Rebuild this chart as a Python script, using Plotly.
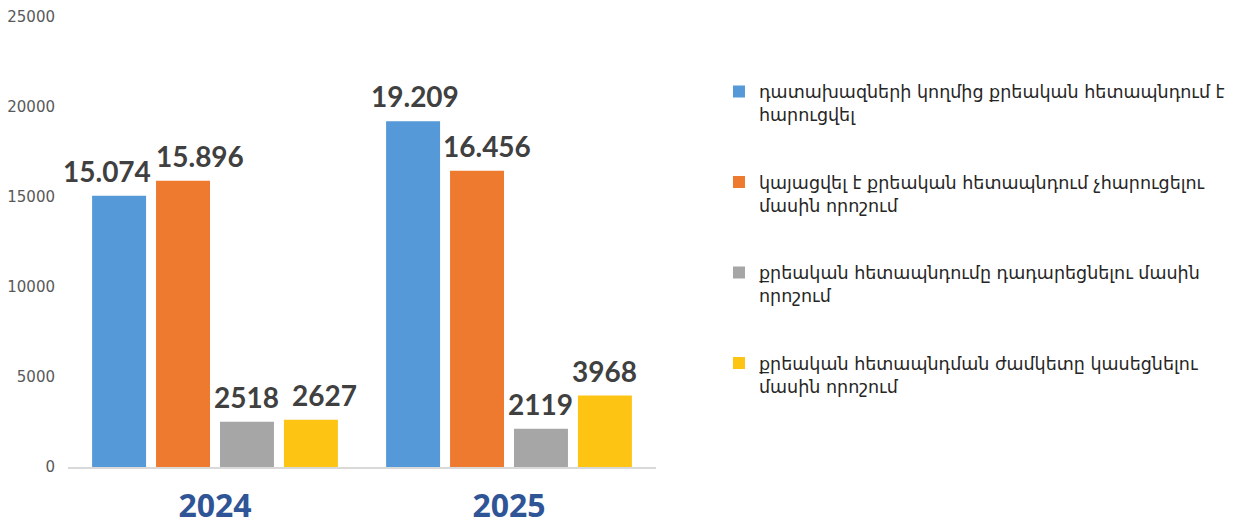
import plotly.graph_objects as go

categories = ["2024", "2025"]
series_names = [
    "դատախազների կողմից քրեական հետապնդում է<br>հարուցվել",
    "կայացվել է քրեական հետապնդում չհարուցելու<br>մասին որոշում",
    "քրեական հետապնդումը դադարեցնելու մասին<br>որոշում",
    "քրեական հետապնդման ժամկետը կասեցնելու<br>մասին որոշում",
]
values = [
    [15074, 19209],
    [15896, 16456],
    [2518, 2119],
    [2627, 3968],
]
value_labels = [
    ["15.074", "19.209"],
    ["15.896", "16.456"],
    ["2518", "2119"],
    ["2627", "3968"],
]
colors = ["#5599D8", "#EE7A30", "#A6A6A6", "#FDC414"]
y_ticks = [0, 5000, 10000, 15000, 20000, 25000]

# style: horizontal nudges (px) of value labels to avoid collisions, like the original
label_nudge = [[-12, 2], [17, 10], [0, 0], [14, 0]]

W, H = 1238, 521
ML, MR, MT, MB = 60, 590, 9, 62
BARGAP, BARGROUPGAP = 0.13, 0.156

fig = go.Figure()
for i, name in enumerate(series_names):
    fig.add_trace(go.Bar(
        x=categories,
        y=values[i],
        name=name,
        legendgroup=f"g{i}",
        marker=dict(color=colors[i], line=dict(width=0)),
        hovertemplate="%{x}: %{y}<extra></extra>",
    ))

cat_px = (W - ML - MR) / len(categories)
slot_px = cat_px * (1 - BARGAP) / len(series_names)
for i in range(len(series_names)):
    for j in range(len(categories)):
        fig.add_annotation(
            x=j, y=values[i][j], xref="x", yref="y",
            text=value_labels[i][j], showarrow=False,
            xanchor="center", yanchor="middle",
            xshift=(i - (len(series_names) - 1) / 2) * slot_px + label_nudge[i][j],
            yshift=25,
            font=dict(family="Lato, DejaVu Sans", size=28, color="#404040", weight="bold"),
        )

fig.update_layout(
    width=W, height=H,
    margin=dict(l=ML, r=MR, t=MT, b=MB),
    paper_bgcolor="white", plot_bgcolor="white",
    barmode="group", bargap=BARGAP, bargroupgap=BARGROUPGAP,
    showlegend=True,
    legend=dict(
        xref="container", yref="container",
        x=0.5743, y=0.874, xanchor="left", yanchor="top",
        valign="top", traceorder="grouped", tracegroupgap=42,
        font=dict(family="DejaVu Sans", size=17.5, color="#262626"),
        itemwidth=30, maxheight=600,
    ),
    xaxis=dict(
        type="category", range=[-0.5, len(categories) - 0.5],
        showline=True, linecolor="#D9D9D9", linewidth=2,
        showgrid=False, ticks="", ticklabelstandoff=10, automargin=False,
        tickfont=dict(family="Open Sans, Liberation Sans", size=32, color="#2F5597", weight="bold"),
    ),
    yaxis=dict(
        range=[0, 25000], tickvals=y_ticks, tickformat="d",
        showgrid=False, zeroline=False, showline=False, automargin=False,
        ticklabelstandoff=12,
        tickfont=dict(family="DejaVu Sans", size=15, color="#595959"),
    ),
)

fig.write_html("out.html")
